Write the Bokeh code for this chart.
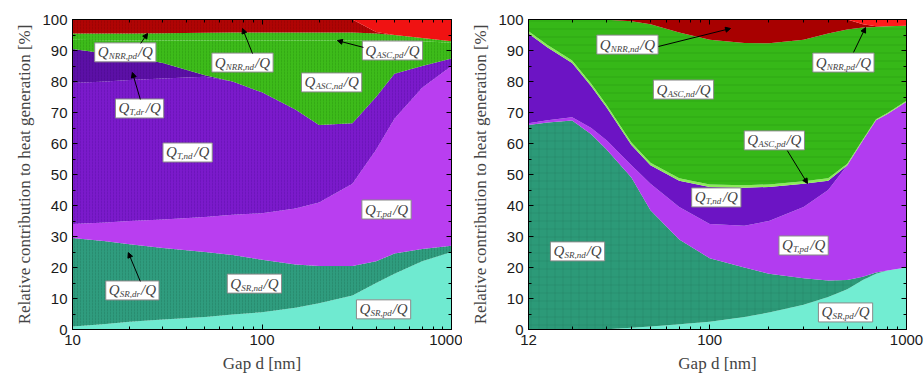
from bokeh.plotting import figure
from bokeh.models import (ColumnDataSource, FixedTicker, LinearAxis, LogAxis, Label,
                          Arrow, NormalHead, Range1d)
from bokeh.layouts import row
from bokeh.embed import file_html
from bokeh.resources import INLINE

# ---------------- left panel: gap 10 - 1000 nm ----------------
gap_a = [10, 15, 20, 30, 50, 70, 100, 150, 200, 300, 400, 500, 700, 1000]
a_sr_pd = [1, 1.8, 2.5, 3.2, 4, 4.8, 5.6, 7, 8.5, 11, 15, 18, 22, 25]
a_sr_nd = [28.5, 26.7, 25, 23.1, 21, 19.2, 16.9, 14, 12, 9.5, 7, 6.5, 4, 2]
a_t_pd = [4.5, 6, 7.5, 9.2, 11.3, 13, 15, 18, 20.5, 26.5, 36, 43.5, 52, 58]
a_t_nd = [45.5, 45.5, 45.5, 45.5, 45.2, 43, 39, 32, 25, 19.5, 17, 14.5, 7, 2.4]
a_t_dr = [11, 9, 7.5, 5, 0.5, 0, 0, 0, 0, 0, 0, 0, 0, 0]
a_asc_nd = [3, 4.3, 5.2, 7.2, 11.2, 13.2, 16.7, 22.2, 27.2, 26.7, 18.2, 10.7, 8, 5.1]
a_asc_pd = [2, 2.2, 2.3, 2.4, 2.5, 2.6, 2.6, 2.6, 2.6, 2.6, 2.3, 1.8, 1, 0.5]
a_nrr_nd = [4.5, 4.5, 4.5, 4.4, 4.3, 4.2, 4.2, 4.2, 4.2, 4.2, 0.5, 0, 0, 0]
a_nrr_pd = [0, 0, 0, 0, 0, 0, 0, 0, 0, 0, 4, 5, 6, 7]

# ---------------- right panel: gap 12 - 1000 nm ----------------
gap_b = [12, 15, 20, 25, 30, 40, 50, 70, 100, 150, 200, 300, 400, 500, 600, 700, 800, 1000]
b_sr_pd = [0, 0, 0, 0, 0.1, 0.6, 1, 1.7, 2.5, 4, 5.5, 8, 10.5, 13, 16, 18, 19, 20]
b_sr_nd = [66, 66.8, 67.4, 63, 57.9, 48.4, 37.5, 27.3, 20.5, 16, 12.5, 8.5, 5.3, 3, 1, 0.4, 0, 0]
b_t_pd = [0.5, 0.7, 1.1, 2, 3, 4, 8.5, 10.5, 11, 13.5, 17, 23, 29.2, 37, 44, 49.1, 50.5, 53.5]
b_t_nd = [29, 23.5, 17.5, 13.5, 10.5, 6.5, 6, 8.5, 12, 12.2, 11, 7.5, 3, 0, 0, 0, 0, 0]
b_asc_pd = [0.7, 0.8, 0.8, 0.8, 0.8, 0.8, 0.8, 0.8, 0.8, 0.8, 0.8, 0.8, 0.8, 0.5, 0.3, 0.3, 0.3, 0.3]
b_asc_nd = [3.8, 8.2, 13.2, 20.7, 27.6, 39.1, 44.7, 47, 46.7, 45.9, 45.5, 45.7, 46.7, 43.3, 36.1, 29.8, 28, 24.2]
b_nrr_nd = [0, 0, 0, 0, 0.1, 0.6, 1.5, 4.2, 6.5, 7.6, 7.7, 6.5, 4.5, 3.2, 1.1, 0.2, 0, 0]
b_nrr_pd = [0, 0, 0, 0, 0, 0, 0, 0, 0, 0, 0, 0, 0, 0, 1.5, 2.2, 2.2, 2]

y_ticks = [0, 10, 20, 30, 40, 50, 60, 70, 80, 90, 100]
y_minor = [5, 15, 25, 35, 45, 55, 65, 75, 85, 95]
minor_log = [20, 30, 40, 50, 60, 70, 80, 90, 200, 300, 400, 500, 600, 700, 800, 900]

SERIF = "Liberation Serif"
SANS = "Liberation Sans"
SUB_PX = 9
# approximate advance widths (em) of italic serif glyphs used in subscripts
CHAR_EM = {"N": 0.667, "R": 0.611, "A": 0.611, "S": 0.5, "C": 0.667, "T": 0.556,
           ",": 0.25, "n": 0.5, "d": 0.5, "p": 0.5, "r": 0.389}


def tick_style(ax):
    ax.major_tick_in = 5
    ax.major_tick_out = 0
    ax.minor_tick_in = 3
    ax.minor_tick_out = 0
    ax.axis_line_color = "black"


def style_axes(p, x_ticks):
    p.xaxis.ticker = FixedTicker(ticks=x_ticks, minor_ticks=minor_log)
    p.xaxis.major_label_overrides = {t: str(t) for t in x_ticks}
    p.yaxis.ticker = FixedTicker(ticks=y_ticks, minor_ticks=y_minor)
    for ax in p.xaxis + p.yaxis:
        tick_style(ax)
        ax.major_label_text_font = SANS
        ax.major_label_text_font_size = "15px"
        ax.major_label_text_color = "#1a1a1a"
        ax.axis_label_text_font = SERIF
        ax.axis_label_text_font_style = "normal"
        ax.axis_label_text_font_size = "17px"
    p.xaxis.major_label_standoff = 5
    p.yaxis.major_label_standoff = 5
    p.xaxis.axis_label = "Gap d [nm]"
    p.yaxis.axis_label = "Relative contribution to heat generation [%]"
    p.xaxis.axis_label_standoff = 6
    p.yaxis.axis_label_standoff = 5
    # mirrored tick marks on the top and right frame edges (no labels)
    top = LogAxis(ticker=FixedTicker(ticks=x_ticks, minor_ticks=minor_log),
                  major_label_text_color=None, major_label_text_font_size="1px",
                  major_label_standoff=0)
    right = LinearAxis(ticker=FixedTicker(ticks=y_ticks, minor_ticks=y_minor),
                       major_label_text_color=None, major_label_text_font_size="1px",
                       major_label_standoff=0)
    tick_style(top)
    tick_style(right)
    p.add_layout(top, "above")
    p.add_layout(right, "right")
    p.xgrid.visible = False
    p.ygrid.visible = False
    p.outline_line_color = "black"
    p.outline_line_width = 1


def tag(p, x, y, sub, arrow_from=None, arrow_to=None):
    sub_w = sum(CHAR_EM.get(c, 0.5) for c in sub) * SUB_PX
    w = 14 + sub_w + 1 + 15 + 3
    left = -w / 2
    p.rect(x=[x], y=[y], width=w, height=19, width_units="screen", height_units="screen",
           fill_color="white", line_color="#8a8a8a", line_width=1)
    p.add_layout(Label(x=x, y=y, x_offset=left + 3, y_offset=0, text="Q",
                       text_font=SERIF, text_font_style="italic", text_font_size="15px",
                       text_baseline="middle"))
    p.add_layout(Label(x=x, y=y, x_offset=left + 14, y_offset=-4, text=sub,
                       text_font=SERIF, text_font_style="italic", text_font_size=f"{SUB_PX}px",
                       text_baseline="middle"))
    p.add_layout(Label(x=x, y=y, x_offset=left + 14 + sub_w + 1, y_offset=0, text="/Q",
                       text_font=SERIF, text_font_style="italic", text_font_size="15px",
                       text_baseline="middle"))
    if arrow_from is not None:
        p.add_layout(Arrow(end=NormalHead(size=5, fill_color="black", line_color="black"),
                           x_start=arrow_from[0], y_start=arrow_from[1],
                           x_end=arrow_to[0], y_end=arrow_to[1],
                           line_color="black", line_width=1))


def panel(gap, layers, colors, hatches, hatch_colors, hatch_scale, hatch_alpha, xr, x_ticks,
          width, border_left, border_right):
    p = figure(width=width, height=379, x_axis_type="log",
               x_range=Range1d(*xr), y_range=Range1d(0, 100),
               output_backend="svg", toolbar_location=None,
               min_border_left=border_left, min_border_right=border_right,
               min_border_top=19, min_border_bottom=50, background_fill_color="white")
    names = [n for n, _ in layers]
    src = ColumnDataSource(dict(d=gap, **{n: v for n, v in layers}))
    p.varea_stack(stackers=names, x="d", source=src, color=colors,
                  hatch_pattern=hatches, hatch_color=hatch_colors,
                  hatch_scale=hatch_scale, hatch_alpha=hatch_alpha, hatch_weight=1)
    style_axes(p, x_ticks)
    return p


left = panel(
    gap_a,
    [("sr_pd", a_sr_pd), ("sr_nd", a_sr_nd), ("t_pd", a_t_pd), ("t_nd", a_t_nd),
     ("t_dr", a_t_dr), ("asc_nd", a_asc_nd), ("asc_pd", a_asc_pd),
     ("nrr_nd", a_nrr_nd), ("nrr_pd", a_nrr_pd)],
    ["#6FEAD0", "#2F9C7E", "#B93EF0", "#7B1ACB", "#5C10A6", "#3DBB1A", "#3FBE1E", "#B00404", "#F01212"],
    [" ", ":", " ", ":", ":", ":", ":", ":", " "],
    ["#6FEAD0", "#227a60", "#B93EF0", "#5c0fa8", "#48088a", "#2a9410", "#2a9410", "#8a0202", "#F01212"],
    3, 0.45, (10, 1000), [10, 100, 1000], 462, 72, 11)

right = panel(
    gap_b,
    [("sr_pd", b_sr_pd), ("sr_nd", b_sr_nd), ("t_pd", b_t_pd), ("t_nd", b_t_nd),
     ("asc_pd", b_asc_pd), ("asc_nd", b_asc_nd), ("nrr_nd", b_nrr_nd), ("nrr_pd", b_nrr_pd)],
    ["#72EDD2", "#2C9A78", "#B23CF0", "#6C14C4", "#8CEB5A", "#36B818", "#A80000", "#FF1A1A"],
    [" ", "+", " ", " ", " ", "-", " ", " "],
    ["#72EDD2", "#1f7a5e", "#B23CF0", "#6C14C4", "#8CEB5A", "#228a0c", "#A80000", "#FF1A1A"],
    8, 0.35, (12, 1000), [12, 100, 1000], 462, 66, 18)

# labels of the left panel
tag(left, 19.0, 89.4, "NRR,pd", (22.9, 92.3), (24.9, 95.5))
tag(left, 78.9, 86.1, "NRR,nd", (89.1, 89.0), (78.9, 97.1))
tag(left, 488, 90.0, "ASC,pd", (343, 91.0), (250, 93.2))
tag(left, 233, 79.7, "ASC,nd")
tag(left, 22.6, 71.3, "T,dr", (22.8, 74.2), (20.7, 82.9))
tag(left, 40.5, 57.1, "T,nd")
tag(left, 454, 38.7, "T,pd")
tag(left, 20.7, 12.6, "SR,dr", (22.8, 15.5), (19.7, 24.8))
tag(left, 91.2, 14.8, "SR,nd")
tag(left, 438, 6.5, "SR,pd")

# labels of the right panel
tag(right, 38.2, 91.9, "NRR,nd", (54.9, 91.3), (127.6, 97.1))
tag(right, 478, 86.1, "NRR,pd", (538, 89.4), (619, 97.4))
tag(right, 73.6, 77.4, "ASC,nd")
tag(right, 213, 61.0, "ASC,pd", (248, 57.7), (314, 47.1))
tag(right, 108, 42.6, "T,nd")
tag(right, 300, 27.1, "T,pd")
tag(right, 21.3, 25.2, "SR,nd")
tag(right, 490, 5.5, "SR,pd")

layout = row(left, right)
open("out.html", "w").write(file_html(layout, INLINE))
